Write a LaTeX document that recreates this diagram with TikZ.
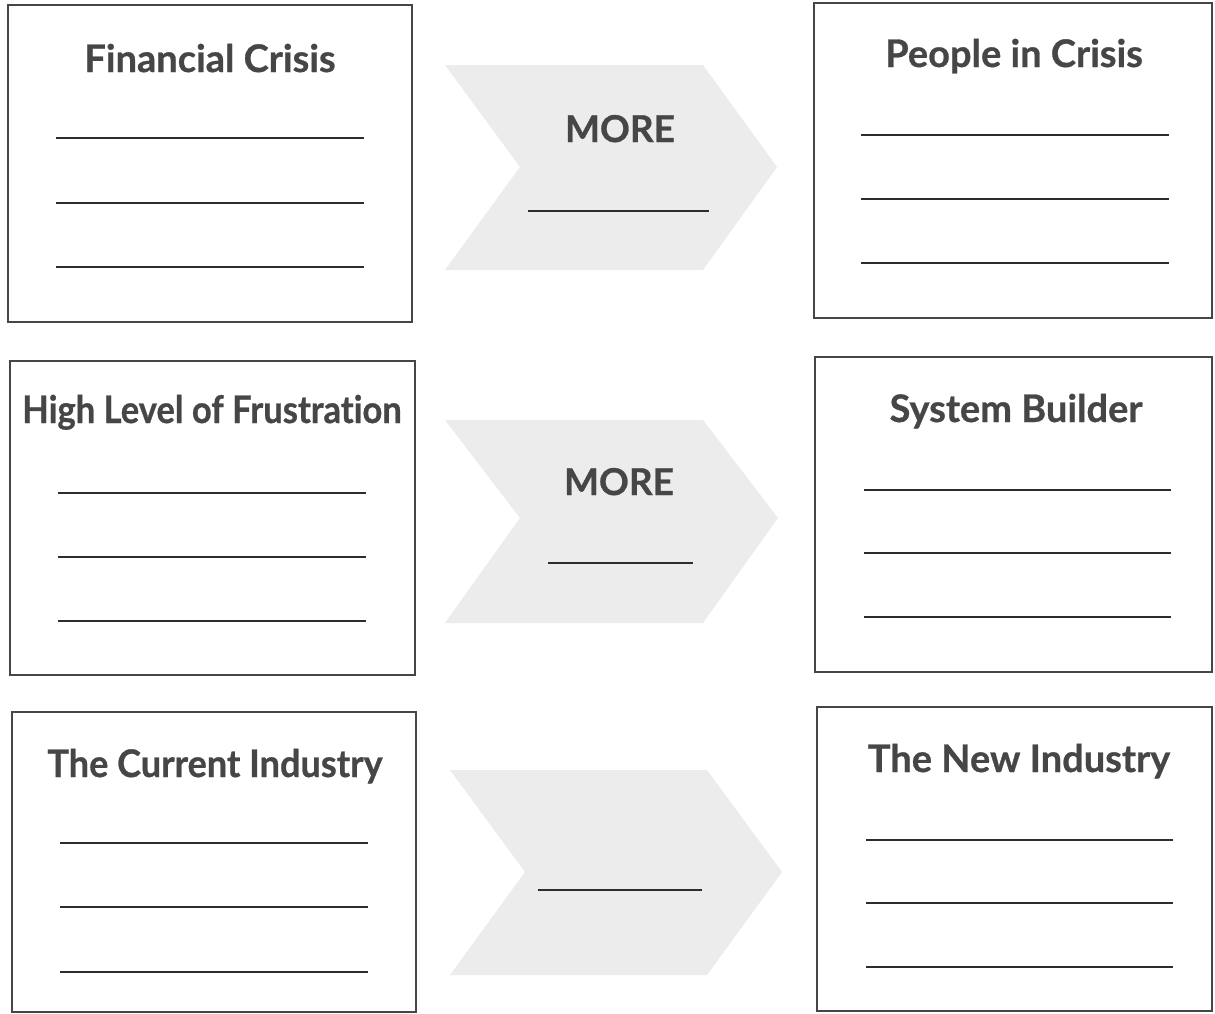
\documentclass[tikz,border=0pt]{standalone}
\usepackage{fontspec}
\setmainfont{Lato}[Ligatures=NoCommon, BoldFeatures={FakeBold=0.7}]
\begin{document}
\begin{tikzpicture}[x=1pt,y=-1pt]
\definecolor{ink}{RGB}{70,70,70}
\definecolor{rule}{RGB}{45,45,45}
\definecolor{chev}{RGB}{236,236,236}
\tikzset{
  box/.style={draw=ink, line width=2pt, fill=white, inner sep=0pt},
  title/.style={anchor=base, text=ink, font=\fontsize{38}{40}\selectfont\bfseries, inner sep=0pt},
  more/.style={anchor=base, text=ink, font=\fontsize{37}{40}\selectfont\bfseries, inner sep=0pt},
  blank/.style={draw=rule, line width=1.6pt},
  chevron/.style={fill=chev, draw=none}
}
\useasboundingbox[fill=white] (0,0) rectangle (1215,1013);

% boxes
\node[box, minimum width=404, minimum height=317] (b1) at (210,163.5) {};
\node[box, minimum width=398, minimum height=315] (b2) at (1013,160.5) {};
\node[box, minimum width=405, minimum height=314] (b3) at (212.5,518) {};
\node[box, minimum width=397, minimum height=315] (b4) at (1013.5,514.5) {};
\node[box, minimum width=404, minimum height=300] (b5) at (214,862) {};
\node[box, minimum width=395, minimum height=304] (b6) at (1014.5,859) {};

% titles
\node[title] (t1) at (210,72) {Financial Crisis};
\node[title] (t2) at (1014,67) {People in Crisis};
\node[title, xscale=0.91] (t3) at (212,423) {High Level of Frustration};
\node[title, xscale=0.95] (t4) at (215,777) {The Current Industry};
\node[title] (t5) at (1016,422) {System Builder};
\node[title] (t6) at (1019,772) {The New Industry};

% blank lines in boxes
\foreach \y in {138,203,267} \draw[blank] (56,\y) -- (364,\y);
\foreach \y in {135,199,263} \draw[blank] (861,\y) -- (1169,\y);
\foreach \y in {493,557,621} \draw[blank] (58,\y) -- (366,\y);
\foreach \y in {490,553,617} \draw[blank] (864,\y) -- (1171,\y);
\foreach \y in {843,907,972} \draw[blank] (60,\y) -- (368,\y);
\foreach \y in {840,903,967} \draw[blank] (866,\y) -- (1173,\y);

% chevrons
\fill[chevron] (445,65) -- (703,65) -- (777,167) -- (703,270) -- (445,270) -- (520,167) -- cycle;
\fill[chevron] (445,420) -- (703,420) -- (778,518) -- (703,623) -- (445,623) -- (520,518) -- cycle;
\fill[chevron] (450,770) -- (707,770) -- (782,872) -- (707,975) -- (450,975) -- (525,872) -- cycle;

\node[more] (m1) at (620,142) {MORE};
\node[more] (m2) at (619,495) {MORE};
\draw[blank] (528,211) -- (709,211);
\draw[blank] (548,563) -- (693,563);
\draw[blank] (538,890) -- (702,890);
\end{tikzpicture}
\end{document}
